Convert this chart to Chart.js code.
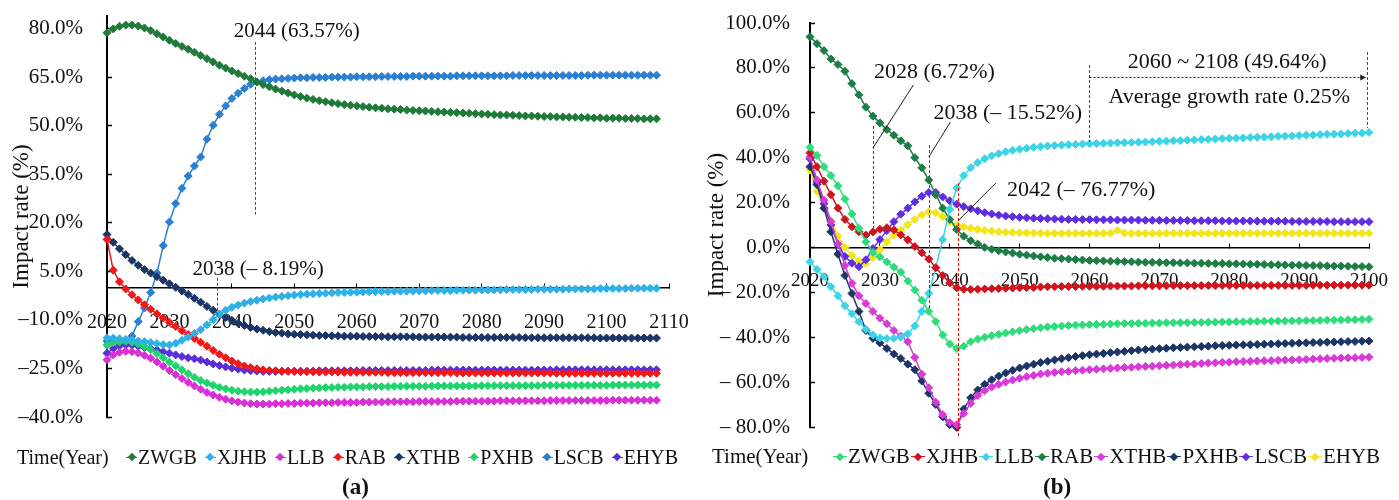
<!DOCTYPE html>
<html>
<head>
<meta charset="utf-8">
<script src="https://cdn.jsdelivr.net/npm/chart.js@4"></script>
<style>
  body { margin: 0; background: #fff; }
  #wrap { position: relative; width: 1399px; height: 500px; overflow: hidden; font-family: "Liberation Serif", serif; color: #111; }
  canvas { position: absolute; top: 0; }
  .txt { position: absolute; white-space: nowrap; line-height: 1; }
  .legend { position: absolute; white-space: nowrap; line-height: 1; display: flex; align-items: center; }
  .legend .item { display: inline-flex; align-items: center; }
  .mk { position: relative; display: inline-block; height: 10px; margin-right: 1px; }
  .mk::before { content: ''; position: absolute; left: 0; right: 0; top: 4.5px; height: 1px; background: var(--c); }
  .mk b { position: absolute; left: 50%; top: 50%; width: 6px; height: 6px; margin: -3px 0 0 -3px; background: var(--c); transform: rotate(45deg); }
</style>
</head>
<body>
<div id="wrap">
  <canvas id="chartA" width="700" height="500" style="left:0"></canvas>
  <canvas id="chartB" width="699" height="500" style="left:700px"></canvas>
  <div class="txt" style="left:17px;top:447px;font-size:20px">Time(Year)</div>
  <div class="legend" id="legA" style="left:126px;top:447px;font-size:20px"></div>
  <div class="txt" style="left:712px;top:446px;font-size:21px">Time(Year)</div>
  <div class="legend" id="legB" style="left:833px;top:446px;font-size:21px"></div>
  <div class="txt" style="left:342px;top:475px;font-size:23px;font-weight:bold">(a)</div>
  <div class="txt" style="left:1043px;top:475px;font-size:23px;font-weight:bold">(b)</div>
</div>
<script>
const family = '"Liberation Serif", "Times New Roman", serif';
Chart.defaults.font.family = family;
Chart.defaults.color = '#111';

// ---- shared ----
const seriesNames = ['ZWGB', 'XJHB', 'LLB', 'RAB', 'XTHB', 'PXHB', 'LSCB', 'EHYB'];

// ---- panel (a) ----
const yearsA = Array.from({length: 89}, (_, i) => 2020 + i);
const xTicksA = [2020, 2030, 2040, 2050, 2060, 2070, 2080, 2090, 2100, 2110];
const yTicksA = [-40, -25, -10, 5, 20, 35, 50, 65, 80];
const colorsA = ['#1f7a3a', '#2fb0e6', '#d930d6', '#f01818', '#1b3566', '#1fd46e', '#2b7fd0', '#5a2fd8'];

const zwgbA = [78.8, 80.0, 80.8, 81.2, 81.2, 80.9, 80.3, 79.5, 78.5, 77.5,
  76.5, 75.5, 74.6, 73.7, 72.8, 71.8, 70.8, 69.8, 68.8, 67.9,
  67.0, 66.2, 65.4, 64.6, 63.6, 62.8, 62.1, 61.4, 60.8, 60.2,
  59.6, 59.1, 58.6, 58.2, 57.8, 57.5, 57.2, 56.9, 56.6, 56.4,
  56.2, 56.0, 55.8, 55.6, 55.5, 55.3, 55.2, 55.1, 54.9, 54.8,
  54.7, 54.6, 54.5, 54.4, 54.3, 54.2, 54.1, 54.0, 53.9, 53.8,
  53.7, 53.6, 53.5, 53.4, 53.4, 53.3, 53.2, 53.1, 53.1, 53.0,
  52.9, 52.9, 52.8, 52.8, 52.7, 52.7, 52.6, 52.6, 52.5, 52.5,
  52.4, 52.4, 52.4, 52.3, 52.3, 52.3, 52.2, 52.2, 52.2];
const xjhbA = [-15.5, -15.6, -15.8, -16.0, -16.2, -16.5, -16.7, -17.0, -17.3, -17.6,
  -17.7, -17.2, -16.3, -15.3, -14.2, -13.0, -11.5, -9.9, -8.2, -7.0,
  -6.1, -5.4, -4.8, -4.3, -3.9, -3.5, -3.2, -2.9, -2.7, -2.5,
  -2.3, -2.1, -2.0, -1.9, -1.8, -1.7, -1.6, -1.5, -1.5, -1.4,
  -1.4, -1.3, -1.3, -1.2, -1.2, -1.2, -1.1, -1.1, -1.1, -1.0,
  -1.0, -1.0, -0.9, -0.9, -0.9, -0.9, -0.8, -0.8, -0.8, -0.8,
  -0.7, -0.7, -0.7, -0.7, -0.6, -0.6, -0.6, -0.6, -0.6, -0.5,
  -0.5, -0.5, -0.5, -0.5, -0.4, -0.4, -0.4, -0.4, -0.4, -0.3,
  -0.3, -0.3, -0.3, -0.3, -0.2, -0.2, -0.2, -0.2, -0.2];
const llbA = [-22.3, -20.8, -20.0, -19.7, -19.8, -20.2, -20.9, -21.8, -23.0, -24.3,
  -25.6, -26.9, -28.1, -29.3, -30.4, -31.4, -32.4, -33.2, -33.9, -34.5,
  -35.0, -35.4, -35.7, -35.9, -36.0, -36.0, -36.0, -35.9, -35.9, -35.8,
  -35.8, -35.7, -35.7, -35.7, -35.6, -35.6, -35.6, -35.5, -35.5, -35.5,
  -35.5, -35.4, -35.4, -35.4, -35.4, -35.3, -35.3, -35.3, -35.3, -35.3,
  -35.2, -35.2, -35.2, -35.2, -35.2, -35.2, -35.1, -35.1, -35.1, -35.1,
  -35.1, -35.1, -35.1, -35.0, -35.0, -35.0, -35.0, -35.0, -35.0, -35.0,
  -35.0, -34.9, -34.9, -34.9, -34.9, -34.9, -34.9, -34.9, -34.9, -34.9,
  -34.9, -34.8, -34.8, -34.8, -34.8, -34.8, -34.8, -34.8, -34.8];
const rabA = [14.9, 5.4, 1.8, -0.4, -2.2, -3.8, -5.3, -6.7, -8.1, -9.4,
  -10.7, -12.0, -13.3, -14.5, -15.7, -16.9, -18.1, -19.4, -20.6, -21.7,
  -22.7, -23.5, -24.2, -24.7, -25.1, -25.4, -25.6, -25.7, -25.8, -25.9,
  -25.9, -26.0, -26.0, -26.0, -26.1, -26.1, -26.1, -26.1, -26.2, -26.2,
  -26.2, -26.2, -26.2, -26.2, -26.2, -26.3, -26.3, -26.3, -26.3, -26.3,
  -26.3, -26.3, -26.3, -26.3, -26.3, -26.3, -26.4, -26.4, -26.4, -26.4,
  -26.4, -26.4, -26.4, -26.4, -26.4, -26.4, -26.4, -26.4, -26.4, -26.4,
  -26.4, -26.4, -26.5, -26.5, -26.5, -26.5, -26.5, -26.5, -26.5, -26.5,
  -26.5, -26.5, -26.5, -26.5, -26.5, -26.5, -26.5, -26.5, -26.5];
const xthbA = [16.4, 14.0, 12.0, 10.2, 8.4, 6.9, 5.6, 4.5, 3.4, 2.3,
  1.2, 0.1, -1.0, -2.1, -3.3, -4.5, -5.8, -7.0, -8.2, -9.2,
  -10.1, -11.0, -11.7, -12.3, -12.8, -13.2, -13.6, -13.9, -14.1, -14.3,
  -14.4, -14.5, -14.6, -14.7, -14.8, -14.8, -14.9, -14.9, -15.0, -15.0,
  -15.0, -15.1, -15.1, -15.1, -15.1, -15.2, -15.2, -15.2, -15.2, -15.2,
  -15.3, -15.3, -15.3, -15.3, -15.3, -15.3, -15.3, -15.4, -15.4, -15.4,
  -15.4, -15.4, -15.4, -15.4, -15.4, -15.4, -15.4, -15.5, -15.5, -15.5,
  -15.5, -15.5, -15.5, -15.5, -15.5, -15.5, -15.5, -15.5, -15.5, -15.6,
  -15.6, -15.6, -15.6, -15.6, -15.6, -15.6, -15.6, -15.6, -15.6];
const pxhbA = [-17.7, -17.0, -16.6, -16.6, -16.9, -17.4, -18.2, -19.2, -20.4, -21.7,
  -23.0, -24.2, -25.4, -26.6, -27.7, -28.7, -29.5, -30.2, -30.8, -31.3,
  -31.7, -32.0, -32.2, -32.3, -32.3, -32.2, -32.0, -31.9, -31.7, -31.6,
  -31.4, -31.3, -31.2, -31.1, -31.0, -30.9, -30.9, -30.8, -30.8, -30.7,
  -30.7, -30.7, -30.6, -30.6, -30.6, -30.6, -30.5, -30.5, -30.5, -30.5,
  -30.5, -30.5, -30.4, -30.4, -30.4, -30.4, -30.4, -30.4, -30.4, -30.4,
  -30.3, -30.3, -30.3, -30.3, -30.3, -30.3, -30.3, -30.3, -30.3, -30.3,
  -30.2, -30.2, -30.2, -30.2, -30.2, -30.2, -30.2, -30.2, -30.2, -30.2,
  -30.2, -30.1, -30.1, -30.1, -30.1, -30.1, -30.1, -30.1, -30.1];
const lscbA = [-16.5, -16.8, -16.9, -16.5, -15.0, -10.5, -6.3, -1.5, 4.5, 13.0,
  20.3, 26.0, 30.7, 34.5, 37.6, 40.4, 45.9, 50.2, 53.6, 56.2,
  58.5, 60.1, 61.6, 62.9, 63.6, 64.0, 64.3, 64.5, 64.6, 64.7,
  64.8, 64.9, 64.9, 65.0, 65.0, 65.0, 65.1, 65.1, 65.1, 65.1,
  65.2, 65.2, 65.2, 65.2, 65.3, 65.3, 65.3, 65.3, 65.3, 65.4,
  65.4, 65.4, 65.4, 65.4, 65.4, 65.4, 65.5, 65.5, 65.5, 65.5,
  65.5, 65.5, 65.5, 65.5, 65.5, 65.6, 65.6, 65.6, 65.6, 65.6,
  65.6, 65.6, 65.6, 65.6, 65.6, 65.6, 65.6, 65.7, 65.7, 65.7,
  65.7, 65.7, 65.7, 65.7, 65.7, 65.7, 65.7, 65.7, 65.7];
const ehybA = [-20.3, -18.8, -18.0, -17.7, -17.8, -18.1, -18.5, -18.9, -19.3, -19.8,
  -20.3, -20.8, -21.3, -21.7, -22.0, -22.4, -23.0, -23.6, -24.1, -24.5,
  -24.9, -25.2, -25.5, -25.7, -25.8, -25.9, -25.9, -25.9, -25.9, -25.8,
  -25.8, -25.8, -25.8, -25.8, -25.7, -25.7, -25.7, -25.7, -25.7, -25.7,
  -25.7, -25.6, -25.6, -25.6, -25.6, -25.6, -25.6, -25.6, -25.6, -25.6,
  -25.6, -25.6, -25.5, -25.5, -25.5, -25.5, -25.5, -25.5, -25.5, -25.5,
  -25.5, -25.5, -25.5, -25.5, -25.5, -25.5, -25.5, -25.5, -25.5, -25.5,
  -25.5, -25.5, -25.4, -25.4, -25.4, -25.4, -25.4, -25.4, -25.4, -25.4,
  -25.4, -25.4, -25.4, -25.4, -25.4, -25.4, -25.4, -25.4, -25.4];

// ---- panel (b) ----
const yearsB = Array.from({length: 81}, (_, i) => 2020 + i);
const xTicksB = [2020, 2030, 2040, 2050, 2060, 2070, 2080, 2090, 2100];
const yTicksB = [-80, -60, -40, -20, 0, 20, 40, 60, 80, 100];
const colorsB = ['#2fdc7c', '#d0141e', '#3cd4e4', '#1e7d46', '#d83ad8', '#1b3566', '#5d2fe0', '#f2e61a'];

const zwgbB = [44.6, 41.0, 36.0, 32.0, 27.5, 21.5, 15.0, 8.5, 2.5, -2.2,
  -4.2, -6.5, -8.8, -11.0, -15.0, -19.0, -23.5, -28.5, -33.0, -39.0,
  -43.0, -45.0, -44.0, -42.0, -40.8, -40.0, -39.3, -38.7, -38.1, -37.6,
  -37.1, -36.6, -36.2, -35.8, -35.4, -35.2, -35.0, -34.8, -34.6, -34.5,
  -34.4, -34.3, -34.2, -34.1, -34.0, -33.9, -33.9, -33.8, -33.8, -33.7,
  -33.7, -33.6, -33.6, -33.5, -33.5, -33.4, -33.4, -33.3, -33.3, -33.2,
  -33.2, -33.1, -33.1, -33.0, -33.0, -32.9, -32.9, -32.8, -32.8, -32.7,
  -32.7, -32.6, -32.6, -32.5, -32.4, -32.4, -32.3, -32.2, -32.2, -32.1,
  -32.0];
const xjhbB = [42.2, 36.0, 29.5, 23.5, 17.5, 12.5, 9.2, 7.0, 5.5, 6.9,
  8.1, 8.8, 7.8, 5.6, 3.4, 0.4, -2.4, -5.2, -9.0, -12.5,
  -15.8, -18.0, -18.6, -18.7, -18.6, -18.5, -18.4, -18.3, -18.2, -18.1,
  -18.0, -17.9, -17.8, -17.6, -17.5, -17.5, -17.4, -17.4, -17.4, -17.3,
  -17.3, -17.3, -17.3, -17.2, -17.2, -17.2, -17.2, -17.1, -17.1, -17.1,
  -17.1, -17.1, -17.0, -17.0, -17.0, -17.0, -17.0, -17.0, -17.0, -16.9,
  -16.9, -16.9, -16.9, -16.9, -16.9, -16.9, -16.9, -16.9, -16.9, -16.9,
  -16.9, -16.9, -16.8, -16.8, -16.8, -16.8, -16.8, -16.8, -16.8, -16.8,
  -16.8];
const llbB = [-6.4, -9.8, -13.0, -17.5, -21.5, -26.0, -29.5, -33.1, -36.5, -39.0,
  -40.3, -40.6, -40.5, -40.0, -38.5, -35.0, -28.5, -20.5, -9.0, 3.5,
  17.0, 26.5, 32.0, 35.5, 37.8, 39.5, 40.8, 41.8, 42.6, 43.3,
  43.8, 44.2, 44.6, 44.9, 45.2, 45.4, 45.6, 45.8, 45.9, 46.1,
  46.2, 46.3, 46.4, 46.5, 46.6, 46.7, 46.8, 46.9, 47.0, 47.1,
  47.3, 47.4, 47.5, 47.6, 47.8, 47.9, 48.1, 48.2, 48.3, 48.5,
  48.6, 48.7, 48.8, 49.0, 49.1, 49.2, 49.3, 49.5, 49.6, 49.7,
  49.9, 50.0, 50.1, 50.3, 50.4, 50.5, 50.6, 50.8, 50.9, 51.0,
  51.2];
const rabB = [93.9, 90.8, 87.7, 84.0, 81.5, 78.5, 73.0, 68.0, 62.5, 58.5,
  55.5, 52.5, 50.0, 47.5, 45.3, 40.0, 35.5, 30.0, 23.5, 17.5,
  12.5, 8.0, 5.0, 3.0, 1.5, 0.0, -0.8, -1.5, -2.0, -2.5,
  -3.0, -3.4, -3.8, -4.2, -4.5, -4.8, -5.0, -5.2, -5.4, -5.6,
  -5.8, -5.9, -6.0, -6.1, -6.2, -6.3, -6.4, -6.5, -6.6, -6.6,
  -6.7, -6.8, -6.8, -6.9, -6.9, -7.0, -7.0, -7.1, -7.2, -7.2,
  -7.3, -7.3, -7.4, -7.5, -7.5, -7.6, -7.7, -7.7, -7.8, -7.9,
  -7.9, -8.0, -8.1, -8.1, -8.2, -8.3, -8.3, -8.4, -8.5, -8.5,
  -8.6];
const xthbB = [40.4, 30.0, 21.0, 11.5, 1.5, -8.0, -16.0, -21.5, -25.0, -28.5,
  -31.5, -34.0, -37.0, -39.5, -42.0, -49.0, -56.5, -62.5, -69.0, -74.5,
  -78.0, -79.0, -74.0, -69.5, -66.0, -63.8, -62.2, -61.0, -60.0, -59.1,
  -58.3, -57.6, -57.0, -56.4, -56.0, -55.7, -55.4, -55.2, -54.9, -54.7,
  -54.5, -54.3, -54.1, -53.9, -53.7, -53.5, -53.4, -53.2, -53.0, -52.9,
  -52.7, -52.5, -52.4, -52.2, -52.0, -51.9, -51.7, -51.5, -51.4, -51.2,
  -51.1, -50.9, -50.8, -50.7, -50.6, -50.5, -50.4, -50.3, -50.2, -50.1,
  -50.0, -49.9, -49.7, -49.6, -49.5, -49.4, -49.3, -49.2, -49.1, -49.0,
  -48.9];
const pxhbB = [36.0, 28.0, 17.5, 7.0, -3.0, -12.5, -20.5, -28.5, -37.0, -40.5,
  -42.5, -45.0, -47.5, -49.5, -52.0, -54.5, -59.5, -65.0, -70.0, -75.5,
  -79.0, -80.2, -72.0, -67.0, -63.5, -61.0, -59.0, -57.3, -55.9, -54.7,
  -53.7, -52.8, -52.0, -51.3, -50.7, -50.1, -49.6, -49.1, -48.6, -48.2,
  -47.8, -47.5, -47.2, -46.9, -46.6, -46.3, -46.0, -45.7, -45.5, -45.3,
  -45.1, -44.9, -44.7, -44.6, -44.4, -44.3, -44.1, -44.0, -43.8, -43.7,
  -43.6, -43.5, -43.4, -43.3, -43.2, -43.1, -43.0, -42.9, -42.8, -42.7,
  -42.6, -42.5, -42.4, -42.3, -42.2, -42.1, -42.0, -41.9, -41.9, -41.8,
  -41.7];
const lscbB = [39.5, 29.0, 19.5, 10.0, 1.5, -4.0, -7.0, -8.6, -5.5, -0.5,
  3.5, 7.5, 11.5, 14.8, 17.5, 20.3, 22.8, 24.5, 24.5, 22.5,
  20.8, 19.3, 18.2, 17.2, 16.3, 15.5, 14.9, 14.4, 14.0, 13.7,
  13.4, 13.2, 13.0, 12.9, 12.8, 12.7, 12.6, 12.5, 12.5, 12.4,
  12.4, 12.3, 12.3, 12.3, 12.2, 12.2, 12.2, 12.2, 12.1, 12.1,
  12.1, 12.0, 12.0, 12.0, 12.0, 11.9, 11.9, 11.9, 11.9, 11.8,
  11.8, 11.8, 11.8, 11.8, 11.7, 11.7, 11.7, 11.7, 11.7, 11.6,
  11.6, 11.6, 11.6, 11.6, 11.6, 11.5, 11.5, 11.5, 11.5, 11.5,
  11.5];
const ehybB = [34.5, 25.0, 17.5, 12.0, 5.0, 0.0, -3.5, -6.0, -7.2, -4.5,
  -1.0, 2.5, 5.5, 7.8, 10.2, 12.5, 14.5, 15.8, 15.5, 13.8,
  11.5, 10.0, 9.2, 8.6, 8.0, 7.6, 7.3, 7.0, 6.8, 6.7,
  6.6, 6.5, 6.4, 6.4, 6.3, 6.3, 6.3, 6.3, 6.3, 6.3,
  6.3, 6.3, 6.3, 6.4, 7.6, 6.4, 6.3, 6.3, 6.3, 6.3,
  6.3, 6.3, 6.3, 6.3, 6.3, 6.3, 6.3, 6.3, 6.3, 6.3,
  6.3, 6.3, 6.3, 6.3, 6.3, 6.3, 6.3, 6.3, 6.3, 6.3,
  6.3, 6.3, 6.3, 6.3, 6.3, 6.3, 6.3, 6.3, 6.3, 6.3,
  6.3];

// annotation texts / guide lines, given in axis units
const notesA = {
  font: '21px ' + family,
  texts: [['2044 (63.57%)', 2050.4, 79.1], ['2038 (\u2013 8.19%)', 2044.2, 5.6]],
  dashes: [[2043.7, 76.0, 22.6], [2037.6, 3.1, -9.0]]
};
const notesB = {
  font: '22px ' + family,
  texts: [['2028 (6.72%)', 2037.8, 78.2], ['2038 (\u2013 15.52%)', 2048.3, 59.9],
          ['2042 (\u2013 76.77%)', 2058.8, 25.6], ['2060 ~ 2108 (49.64%)', 2079.7, 82.6],
          ['Average growth rate 0.25%', 2080.0, 67.0]],
  leaders: [[2034.8, 72.4, 2029.0, 44.3], [2040.1, 55.9, 2037.0, 40.3], [2046.6, 28.7, 2041.3, 12.2]],
  dashes: [[2029.0, 54.1, 6.4], [2037.0, 45.6, -27.0], [2041.2, 28.7, -84.5], [2059.9, 81.3, 47.0], [2099.7, 87.1, 53.2]],
  span: [2060.0, 2099.6, 75.9]
};

function notes(spec) {
  return {
    id: 'notes',
    afterDatasetsDraw(chart) {
      const {ctx, scales: {x, y}} = chart;
      const px = v => x.getPixelForValue(v);
      const py = v => y.getPixelForValue(v);
      ctx.save();
      ctx.lineWidth = 1;
      ctx.strokeStyle = '#ff0000';
      ctx.setLineDash([3, 2]);
      spec.dashes.forEach(([yr, a, b]) => {
        ctx.beginPath();
        ctx.moveTo(Math.round(px(yr)) + 0.5, py(a));
        ctx.lineTo(Math.round(px(yr)) + 0.5, py(b));
        ctx.stroke();
      });
      ctx.setLineDash([]);
      ctx.strokeStyle = '#222';
      (spec.leaders || []).forEach(([x1, y1, x2, y2]) => {
        ctx.beginPath();
        ctx.moveTo(px(x1), py(y1));
        ctx.lineTo(px(x2), py(y2));
        ctx.stroke();
      });
      if (spec.span) {
        const [a, b, v] = spec.span;
        const yy = Math.round(py(v)) + 0.5;
        ctx.setLineDash([2, 2]);
        ctx.beginPath();
        ctx.moveTo(px(a), yy);
        ctx.lineTo(px(b) - 4, yy);
        ctx.stroke();
        ctx.setLineDash([]);
        ctx.fillStyle = '#222';
        ctx.beginPath();
        ctx.moveTo(px(b), yy);
        ctx.lineTo(px(b) - 6, yy - 3);
        ctx.lineTo(px(b) - 6, yy + 3);
        ctx.closePath();
        ctx.fill();
      }
      ctx.fillStyle = '#111';
      ctx.font = spec.font;
      ctx.textAlign = 'center';
      ctx.textBaseline = 'middle';
      spec.texts.forEach(([t, yr, v]) => ctx.fillText(t, px(yr), py(v)));
      ctx.restore();
    }
  };
}

function build(id, cfg) {
  const datasets = seriesNames.map((name, i) => ({
    label: name,
    data: cfg.values[i].map((v, k) => ({x: cfg.years[k], y: v})),
    borderColor: cfg.colors[i],
    backgroundColor: cfg.colors[i],
    borderWidth: 1.5,
    pointStyle: 'rectRot',
    pointRadius: 4,
    pointHoverRadius: 4,
    pointBorderWidth: 1,
    tension: 0,
    clip: false
  }));
  return new Chart(document.getElementById(id), {
    type: 'line',
    data: {datasets},
    options: {
      responsive: false,
      animation: false,
      events: [],
      layout: {padding: cfg.padding},
      plugins: {
        tooltip: {enabled: false},
        legend: {display: false}
      },
      scales: {
        x: {
          type: 'linear',
          min: cfg.xTicks[0],
          max: cfg.xTicks[cfg.xTicks.length - 1],
          position: {y: 0},
          afterBuildTicks: s => { s.ticks = cfg.xTicks.map(v => ({value: v})); },
          afterFit: s => { s.height = 0; s.paddingLeft = 0; s.paddingRight = 0; },
          border: {color: '#000', width: 1.5},
          grid: {drawOnChartArea: false, tickLength: -5, tickColor: '#000', tickWidth: 1},
          ticks: {
            autoSkip: false, maxRotation: 0, padding: cfg.xPad, color: '#111',
            font: {family, size: cfg.xSize},
            callback: v => String(v)
          }
        },
        y: {
          min: cfg.yMin,
          max: cfg.yMax,
          afterBuildTicks: s => { s.ticks = cfg.yTicks.map(v => ({value: v})); },
          afterFit: s => { s.width = cfg.yWidth; s.paddingTop = 0; s.paddingBottom = 0; },
          border: {color: '#000', width: 2},
          grid: {drawOnChartArea: false, tickLength: -5, tickColor: '#000', tickWidth: 1.5},
          ticks: {
            padding: cfg.yPad, color: '#111',
            font: {family, size: 21},
            callback: cfg.fmt
          },
          title: {
            display: true, text: 'Impact rate (%)', color: '#111',
            font: {family, size: 23}, padding: {top: cfg.titlePad, bottom: 0}
          }
        }
      }
    },
    plugins: [notes(cfg.notes)]
  });
}

// series key under each panel, built from the same names and colours
function htmlLegend(elId, colors, markW, gap) {
  const el = document.getElementById(elId);
  seriesNames.forEach((name, i) => {
    const item = document.createElement('span');
    item.className = 'item';
    item.style.marginRight = gap + 'px';
    item.innerHTML = '<i class="mk" style="width:' + markW + 'px;--c:' + colors[i] + '"><b></b></i>' + name;
    el.appendChild(item);
  });
}

build('chartA', {
  years: yearsA,
  values: [zwgbA, xjhbA, llbA, rabA, xthbA, pxhbA, lscbA, ehybA],
  colors: colorsA,
  xTicks: xTicksA, yTicks: yTicksA, yMin: -40, yMax: 84,
  padding: {left: 0, right: 31, top: 16, bottom: 83},
  yWidth: 107, yPad: 29, xPad: 28, xSize: 20, titlePad: 8,
  fmt: v => (v < 0 ? '\u2013' : '') + Math.abs(v).toFixed(1) + '%',
  notes: notesA
});

build('chartB', {
  years: yearsB,
  values: [zwgbB, xjhbB, llbB, rabB, xthbB, pxhbB, lscbB, ehybB],
  colors: colorsB,
  xTicks: xTicksB, yTicks: yTicksB, yMin: -80, yMax: 100,
  padding: {left: 0, right: 30, top: 23, bottom: 73},
  yWidth: 110, yPad: 25, xPad: 27, xSize: 19, titlePad: 3,
  fmt: v => (v < 0 ? '\u2013 ' : '') + Math.abs(v).toFixed(1) + '%',
  notes: notesB
});

htmlLegend('legA', colorsA, 11, 8);
htmlLegend('legB', colorsB, 14, 1);
</script>
</body>
</html>
